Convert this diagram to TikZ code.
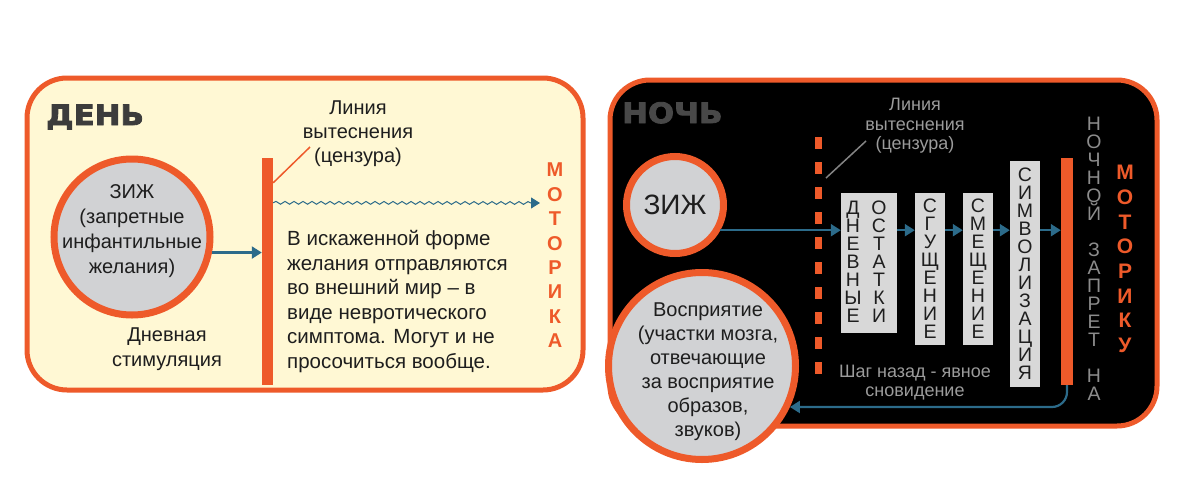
\documentclass[tikz,border=0pt]{standalone}
\usepackage{fontspec}
\setmainfont{Liberation Sans}
\newfontfamily\heavyfont{DejaVu Sans}[BoldFeatures={FakeBold=3,FakeStretch=1.1}]
\usetikzlibrary{arrows.meta,decorations.pathmorphing,calc}
\definecolor{org}{RGB}{238,90,42}
\definecolor{cream}{RGB}{255,248,212}
\definecolor{cgray}{RGB}{209,210,212}
\definecolor{arrblue}{RGB}{44,107,138}
\definecolor{bgray}{RGB}{216,216,216}
\definecolor{headA}{RGB}{60,60,60}
\definecolor{headB}{RGB}{72,72,72}
\definecolor{ntext}{RGB}{155,155,155}
\definecolor{nletter}{RGB}{140,140,140}
\definecolor{ink}{RGB}{30,30,30}
\newcommand\tightlines{\lineskiplimit=-1000pt\relax}
\tikzset{
  panelnode/.style={rectangle, draw=org, line width=5pt, rounded corners=40pt, inner sep=0pt},
  ring/.style={circle, draw=org, fill=cgray, line width=7pt, inner sep=0pt, text=ink},
  txt/.style={align=center, inner sep=0pt, text=ink, font=\fontsize{20}{24.5}\selectfont\tightlines},
  arr/.style={draw=arrblue, line width=2.2pt, -{Triangle[length=10pt,width=12pt]}},
  gbox/.style={rectangle, fill=bgray, inner sep=0pt, align=center, text=ink, font=\fontsize{19.5}{18}\selectfont\tightlines},
  vstack/.style={align=center, inner sep=0pt, text=ink, font=\fontsize{19.5}{18}\selectfont\tightlines},
  vbold/.style={align=center, inner sep=0pt, text=org, anchor=north, font=\bfseries\fontsize{20}{24.4}\selectfont\tightlines},
  bar/.style={rectangle, fill=org, inner sep=0pt, minimum width=11pt, minimum height=227pt},
  heading/.style={anchor=base west, inner sep=0pt, font=\heavyfont\bfseries\fontsize{28}{30}\selectfont},
}
\begin{document}
\begin{tikzpicture}[x=1pt,y=-1pt]
\fill[white] (0,0) rectangle (1200,493);
\useasboundingbox (0,0) rectangle (1200,493);

% ---------------- DAY ----------------
\node[panelnode, fill=cream, minimum width=556pt, minimum height=312pt] (day) at (305,234) {};
\node[heading, text=headA] (den) at (46,125) {ДЕНЬ};

\node[ring, minimum size=156pt] (z1) at (132,237) {};
\node[txt, font=\fontsize{20}{25}\selectfont\tightlines] (z1t) at (132,231.5) {ЗИЖ\\(запретные\\инфантильные\\желания)};

\node[bar] (bar1) at (267.5,271.5) {};
\draw[arr] (z1.-11) -- (z1.-11 -| bar1.west);

\node[txt, font=\fontsize{20}{24}\selectfont\tightlines] (lab1) at (358,134) {Линия\\вытеснения\\(цензура)};
\coordinate (lab1c) at (310,147);
\draw[draw=org, line width=1.5pt] ($(bar1.north east)+(0,25)$) -- (lab1c);

\coordinate (mot1end) at (540,203);
\draw[draw=arrblue, line width=1pt, decorate,
      decoration={snake, amplitude=1.4pt, segment length=9pt, post length=9pt},
      -{Triangle[length=9pt,width=11pt]}] ($(bar1.north east)+(0,45)$) -- (mot1end);

\node[txt, align=left, anchor=north west, font=\fontsize{20.5}{24.6}\selectfont\tightlines] (para) at (287,230)
  {В искаженной форме\\желания отправляются\\во внешний мир -- в\\виде невротического\\симптома. Могут и не\\просочиться вообще.};

\node[txt, font=\fontsize{20}{25}\selectfont\tightlines] (stim) at (167,349.5) {Дневная\\стимуляция};

\node[vbold] (mot1) at (555,163) {М\\О\\Т\\О\\Р\\И\\К\\А};

% ---------------- NIGHT ----------------
\node[panelnode, fill=black, minimum width=547pt, minimum height=346pt] (night) at (883.5,253) {};
\node[heading, text=headB] (noch) at (622,123) {НОЧЬ};

\coordinate (dtop) at (818,137);
\coordinate (dbot) at (818,374);
\draw[draw=org, line width=7pt, dash pattern=on 12pt off 13pt] (dtop) -- (dbot);

\node[txt, text=ntext, font=\fontsize{18}{19.5}\selectfont\tightlines] (lab2) at (915,126) {Линия\\вытеснения\\(цензура)};
\coordinate (g1) at (826,178);
\coordinate (g2) at (866,141);
\draw[draw=ntext!85!black, line width=1.5pt] (g1) -- (g2);

\node[ring, minimum size=97pt, font=\fontsize{28}{30}\selectfont] (z2) at (675,205) {ЗИЖ};

\node[gbox, minimum width=56pt, minimum height=140pt] (b1) at (869,263) {};
\node[vstack] (b1a) at (853,261.5) {Д\\Н\\Е\\В\\Н\\Ы\\Е};
\node[vstack] (b1b) at (879,261.5) {О\\С\\Т\\А\\Т\\К\\И};
\node[gbox, minimum width=30pt, minimum height=152pt] (b2) at (930,269) {С\\Г\\У\\Щ\\Е\\Н\\И\\Е};
\node[gbox, minimum width=30pt, minimum height=152pt] (b3) at (978,269) {С\\М\\Е\\Щ\\Е\\Н\\И\\Е};
\node[gbox, minimum width=30pt, minimum height=226pt] (b4) at (1025,274) {С\\И\\М\\В\\О\\Л\\И\\З\\А\\Ц\\И\\Я};
\node[bar, minimum width=12pt] (bar2) at (1067,271.5) {};

\draw[arr] (z2.-29) -- (z2.-29 -| b1.west);
\draw[arr] (z2.-29 -| b1.east) -- (z2.-29 -| b2.west);
\draw[arr] (z2.-29 -| b2.east) -- (z2.-29 -| b3.west);
\draw[arr] (z2.-29 -| b3.east) -- (z2.-29 -| b4.west);
\draw[arr] (z2.-29 -| b4.east) -- (z2.-29 -| bar2.west);

\node[vstack, text=nletter, anchor=north] (nz) at (1094,117) {Н\\О\\Ч\\Н\\О\\Й\\[18pt]З\\А\\П\\Р\\Е\\Т\\[18pt]Н\\А};
\node[vbold, font=\bfseries\fontsize{21}{24.7}\selectfont\tightlines] (mot2) at (1125,165) {М\\О\\Т\\О\\Р\\И\\К\\У};

\node[txt, text=ntext, font=\fontsize{18}{19}\selectfont\tightlines] (shag) at (915,382.5) {Шаг назад - явное\\сновидение};

\node[ring, minimum size=187pt] (per) at (702,366) {};
\node[txt, font=\fontsize{20}{24}\selectfont\tightlines] (pert) at (708,372) {Восприятие\\(участки мозга,\\отвечающие\\за восприятие\\образов,\\звуков)};

\draw[arr, rounded corners=15pt] (bar2.south) |- (per.-25);
\end{tikzpicture}
\end{document}
